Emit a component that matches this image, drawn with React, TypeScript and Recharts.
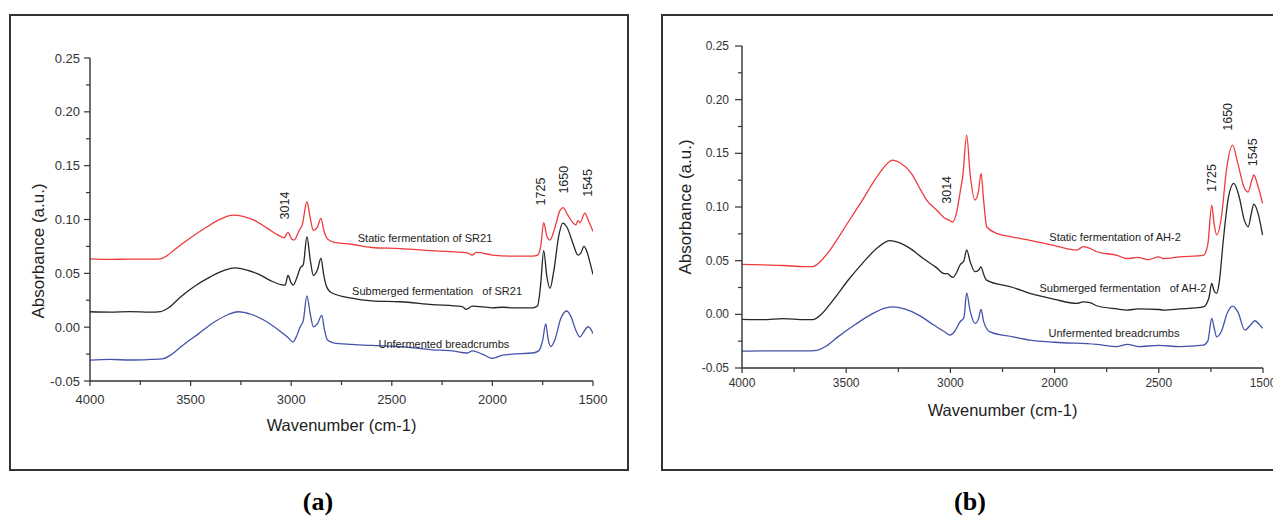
import React from "react";
import { LineChart, Line, XAxis, YAxis, ReferenceDot, Label } from "recharts";

// ---------- Panel (a): SR21 ----------
const aStaticW = [4000, 3900, 3800, 3700, 3650, 3620, 3580, 3500, 3420, 3350, 3290, 3240, 3180, 3120, 3060, 3035, 3016, 2998, 2985, 2960, 2945, 2922, 2905, 2890, 2870, 2852, 2838, 2820, 2790, 2700, 2600, 2459, 2300, 2126, 2100, 2080, 2000, 1900, 1800, 1775, 1760, 1745, 1730, 1714, 1690, 1665, 1649, 1625, 1600, 1585, 1575, 1565, 1540, 1525, 1500];
const aStaticA = [0.0635, 0.063, 0.0632, 0.0632, 0.0635, 0.066, 0.072, 0.083, 0.093, 0.1005, 0.104, 0.103, 0.099, 0.092, 0.085, 0.083, 0.088, 0.082, 0.081, 0.09, 0.095, 0.1165, 0.101, 0.09, 0.093, 0.101, 0.09, 0.082, 0.079, 0.077, 0.074, 0.073, 0.071, 0.069, 0.067, 0.0695, 0.067, 0.066, 0.066, 0.067, 0.075, 0.097, 0.085, 0.081, 0.092, 0.108, 0.111, 0.104, 0.097, 0.095, 0.099, 0.097, 0.106, 0.1, 0.089];

const aSubW = [4000, 3900, 3800, 3700, 3650, 3610, 3550, 3480, 3400, 3330, 3280, 3220, 3160, 3100, 3050, 3030, 3016, 3000, 2990, 2970, 2955, 2940, 2922, 2905, 2890, 2870, 2852, 2838, 2825, 2800, 2700, 2600, 2459, 2300, 2150, 2130, 2100, 2000, 1950, 1900, 1800, 1775, 1760, 1745, 1730, 1714, 1695, 1670, 1650, 1630, 1600, 1575, 1560, 1545, 1530, 1515, 1500];
const aSubA = [0.0143, 0.014, 0.0145, 0.014, 0.0145, 0.018, 0.028, 0.038, 0.047, 0.053, 0.055, 0.053, 0.049, 0.043, 0.0395, 0.039, 0.048, 0.041, 0.039, 0.047, 0.055, 0.058, 0.084, 0.062, 0.048, 0.053, 0.064, 0.048, 0.038, 0.032, 0.027, 0.0245, 0.0236, 0.021, 0.019, 0.0165, 0.0195, 0.018, 0.0185, 0.018, 0.018, 0.02, 0.04, 0.071, 0.048, 0.036, 0.052, 0.085, 0.0967, 0.093, 0.078, 0.067, 0.069, 0.075, 0.07, 0.06, 0.049];

const aUnfW = [4000, 3900, 3800, 3700, 3640, 3600, 3540, 3460, 3380, 3310, 3264, 3200, 3130, 3060, 3020, 2991, 2975, 2955, 2940, 2922, 2905, 2890, 2870, 2848, 2835, 2820, 2790, 2700, 2600, 2459, 2300, 2200, 2126, 2100, 2050, 2000, 1980, 1950, 1900, 1800, 1770, 1750, 1735, 1722, 1710, 1690, 1660, 1631, 1610, 1585, 1565, 1545, 1525, 1510, 1500];
const aUnfA = [-0.0306, -0.03, -0.0305, -0.03, -0.0295, -0.026, -0.017, -0.006, 0.005, 0.012, 0.0143, 0.012, 0.006, -0.003, -0.009, -0.0136, -0.009, 0.0004, 0.006, 0.029, 0.012, 0.0004, 0.003, 0.011, -0.002, -0.012, -0.0145, -0.016, -0.017, -0.018, -0.021, -0.022, -0.024, -0.022, -0.025, -0.029, -0.028, -0.026, -0.025, -0.024, -0.022, -0.012, 0.003, -0.012, -0.018, -0.012, 0.008, 0.015, 0.01, -0.003, -0.009, -0.004, 0.0004, -0.002, -0.006];

// ---------- Panel (b): AH-2 ----------
const bStaticW = [4000, 3900, 3800, 3700, 3660, 3620, 3570, 3500, 3430, 3360, 3300, 3279, 3240, 3190, 3140, 3114, 3060, 3030, 3015, 3000, 2990, 2970, 2954, 2940, 2922, 2905, 2882, 2865, 2853, 2840, 2826, 2778, 2700, 2618, 2500, 2394, 2362, 2330, 2298, 2200, 2154, 2100, 2050, 2000, 1978, 1900, 1786, 1765, 1746, 1735, 1722, 1700, 1675, 1646, 1620, 1590, 1571, 1555, 1544, 1525, 1502];
const bStaticA = [0.0465, 0.046, 0.0455, 0.0445, 0.0445, 0.05, 0.062, 0.083, 0.104, 0.126, 0.141, 0.1437, 0.141, 0.132, 0.115, 0.1065, 0.096, 0.09, 0.0885, 0.087, 0.086, 0.095, 0.113, 0.13, 0.167, 0.13, 0.1065, 0.115, 0.1314, 0.105, 0.0816, 0.0754, 0.072, 0.069, 0.064, 0.0599, 0.063, 0.0615, 0.0583, 0.055, 0.052, 0.053, 0.051, 0.0535, 0.052, 0.0535, 0.055, 0.065, 0.1018, 0.085, 0.074, 0.09, 0.135, 0.1577, 0.14, 0.118, 0.114, 0.124, 0.1298, 0.12, 0.1034];

const bSubW = [4000, 3900, 3800, 3700, 3660, 3620, 3560, 3490, 3420, 3350, 3290, 3250, 3190, 3130, 3070, 3030, 3015, 2989, 2970, 2954, 2935, 2922, 2905, 2882, 2865, 2853, 2840, 2826, 2700, 2618, 2500, 2394, 2362, 2330, 2298, 2200, 2154, 2100, 2000, 1978, 1900, 1786, 1760, 1746, 1735, 1722, 1710, 1690, 1665, 1640, 1615, 1590, 1571, 1555, 1544, 1525, 1502];
const bSubA = [-0.0047, -0.005, -0.004, -0.005, -0.005, 0.0, 0.014, 0.032, 0.048, 0.062, 0.0686, 0.067, 0.061, 0.052, 0.044, 0.038, 0.038, 0.0344, 0.039, 0.046, 0.05, 0.06, 0.049, 0.0397, 0.041, 0.0443, 0.037, 0.0319, 0.025, 0.0195, 0.014, 0.0102, 0.0117, 0.011, 0.008, 0.005, 0.004, 0.005, 0.0045, 0.004, 0.005, 0.007, 0.015, 0.0289, 0.022, 0.0195, 0.03, 0.07, 0.11, 0.122, 0.11, 0.088, 0.0816, 0.095, 0.1027, 0.095, 0.0738];

const bUnfW = [4000, 3900, 3800, 3700, 3640, 3600, 3540, 3460, 3380, 3310, 3274, 3220, 3150, 3080, 3030, 3002, 2980, 2954, 2935, 2922, 2905, 2882, 2865, 2853, 2840, 2810, 2700, 2618, 2500, 2300, 2200, 2150, 2100, 2000, 1900, 1786, 1765, 1746, 1735, 1722, 1700, 1670, 1646, 1620, 1587, 1560, 1539, 1520, 1502];
const bUnfA = [-0.0343, -0.034, -0.034, -0.034, -0.0335, -0.03, -0.021, -0.01, 0.0, 0.006, 0.007, 0.005, -0.001, -0.01, -0.016, -0.0193, -0.016, -0.007, -0.003, 0.02, 0.003, -0.0085, -0.004, 0.0046, -0.007, -0.0163, -0.021, -0.024, -0.026, -0.028, -0.03, -0.028, -0.03, -0.029, -0.03, -0.0287, -0.025, -0.0039, -0.012, -0.021, -0.016, 0.002, 0.0077, 0.002, -0.0147, -0.01, -0.006, -0.009, -0.0131];

// ---------- Ticks ----------
const xTickValues = [4000, 3750, 3500, 3250, 3000, 2750, 2500, 2250, 2000, 1750, 1500];
const xMajorValues = [4000, 3500, 3000, 2500, 2000, 1500];
const aXTickLabels = ["4000", "3500", "3000", "2500", "2000", "1500"];
const bXTickLabels = ["4000", "3500", "3000", "2000", "2500", "1500"];
const yTickValues = [-0.05, -0.025, 0, 0.025, 0.05, 0.075, 0.1, 0.125, 0.15, 0.175, 0.2, 0.225, 0.25];
const yMajorValues = [-0.05, 0, 0.05, 0.1, 0.15, 0.2, 0.25];
const yTickLabels = ["-0.05", "0.00", "0.05", "0.10", "0.15", "0.20", "0.25"];

// ---------- Texts ----------
const seriesNames = ["Static fermentation of", "Submerged fermentation   of", "Unfermented breadcrumbs"];
const aNameSuffix = "SR21";
const bNameSuffix = "AH-2";
const peakLabels = ["3014", "1725", "1650", "1545"];
// label anchors in data units [wavenumber, absorbance]
const aPeakPos = [[3031, 0.113], [1760, 0.126], [1643, 0.137], [1523, 0.134]];
const bPeakPos = [[3015, 0.116], [1746, 0.127], [1670, 0.184], [1547, 0.151]];
const aNamePos = [[2335, 0.0828], [2275, 0.0338], [2241, -0.0157]];
const bNamePos = [[2210, 0.0717], [2172, 0.0242], [2215, -0.0178]];

const COLORS = ["#ee3b3d", "#262626", "#4453aa"];
const AXIS = "#333333";
const FONT = "'Liberation Sans', Arial, sans-serif";

const zip = (w: number[], a: number[]) => w.map((x, i) => ({ w: x, a: a[i] }));

const isMajor = (v: number, majors: number[]) => majors.some((m) => Math.abs(m - v) < 1e-9);

function makeXTick(labels: string[], fontSize: number, labelDy: number) {
  return (props: any) => {
    const { x, y, payload } = props;
    const v = payload.value;
    const major = isMajor(v, xMajorValues);
    const idx = xMajorValues.findIndex((m) => Math.abs(m - v) < 1e-9);
    return (
      <g>
        <line x1={x} y1={y} x2={x} y2={y + (major ? 5 : 4)} stroke={AXIS} strokeWidth={1.2} />
        {major && (
          <text x={x} y={y + labelDy} textAnchor="middle" dominantBaseline="central" fontFamily={FONT} fontSize={fontSize} fill="#333">
            {labels[idx]}
          </text>
        )}
      </g>
    );
  };
}

function makeYTick(fontSize: number, gap: number, majorLen: number) {
  return (props: any) => {
    const { x, y, payload } = props;
    const v = payload.value;
    const major = isMajor(v, yMajorValues);
    const idx = yMajorValues.findIndex((m) => Math.abs(m - v) < 1e-9);
    return (
      <g>
        <line x1={x - (major ? majorLen : 4)} y1={y} x2={x} y2={y} stroke={AXIS} strokeWidth={1.2} />
        {major && (
          <text x={x - gap} y={y} textAnchor="end" dominantBaseline="central" fontFamily={FONT} fontSize={fontSize} fill="#333">
            {yTickLabels[idx]}
          </text>
        )}
      </g>
    );
  };
}

const rotatedText = (text: string, size: number) => (p: any) => (
  <text
    x={p.cx}
    y={p.cy}
    transform={`rotate(-90 ${p.cx} ${p.cy})`}
    textAnchor="middle"
    dominantBaseline="central"
    fontFamily={FONT}
    fontSize={size}
    fill="#222"
  >
    {text}
  </text>
);

const flatText = (text: string, size: number) => (p: any) => (
  <text
    x={p.cx}
    y={p.cy}
    textAnchor="middle"
    dominantBaseline="central"
    fontFamily={FONT}
    fontSize={size}
    fill="#222"
    style={{ whiteSpace: "pre" }}
  >
    {text}
  </text>
);

interface PanelProps {
  width: number;
  height: number;
  margin: { top: number; right: number; bottom: number; left: number };
  series: { w: number[]; a: number[] }[];
  xLabels: string[];
  tickFont: number;
  xLabelDy: number;
  yGap: number;
  yMajorLen: number;
  peakPos: number[][];
  namePos: number[][];
  suffix: string;
  xTitleDy: number;
  xTitleSize: number;
  yTitleX: number;
  yTitleY: number;
  yTitleSize: number;
}

function Panel(p: PanelProps) {
  return (
    <LineChart width={p.width} height={p.height} margin={p.margin}>
      <XAxis
        type="number"
        dataKey="w"
        domain={[1500, 4000]}
        reversed
        ticks={xTickValues}
        interval={0}
        tickSize={0}
        tickMargin={0}
        height={30}
        stroke={AXIS}
        strokeWidth={1.4}
        tick={makeXTick(p.xLabels, p.tickFont, p.xLabelDy)}
        allowDataOverflow
      >
        <Label
          content={(lp: any) => {
            const vb = lp.viewBox;
            return (
              <text x={vb.x + vb.width / 2} y={vb.y + p.xTitleDy} textAnchor="middle" dominantBaseline="central" fontFamily={FONT} fontSize={p.xTitleSize} fill="#222">
                Wavenumber (cm-1)
              </text>
            );
          }}
        />
      </XAxis>
      <YAxis
        type="number"
        domain={[-0.05, 0.25]}
        ticks={yTickValues}
        interval={0}
        tickSize={0}
        tickMargin={0}
        width={60}
        stroke={AXIS}
        strokeWidth={1.4}
        tick={makeYTick(p.tickFont, p.yGap, p.yMajorLen)}
        allowDataOverflow
      >
        <Label
          content={() => (
            <text x={p.yTitleX} y={p.yTitleY} transform={`rotate(-90 ${p.yTitleX} ${p.yTitleY})`} textAnchor="middle" dominantBaseline="central" fontFamily={FONT} fontSize={p.yTitleSize} fill="#222">
              Absorbance (a.u.)
            </text>
          )}
        />
      </YAxis>
      {p.series.map((s, i) => (
        <Line
          key={i}
          data={zip(s.w, s.a)}
          dataKey="a"
          type="monotone"
          stroke={COLORS[i]}
          strokeWidth={1.3}
          dot={false}
          activeDot={false}
          isAnimationActive={false}
        />
      ))}
      {peakLabels.map((t, i) => (
        <ReferenceDot key={"pk" + i} x={p.peakPos[i][0]} y={p.peakPos[i][1]} r={0} shape={rotatedText(t, 12.5)} />
      ))}
      {seriesNames.map((t, i) => (
        <ReferenceDot key={"nm" + i} x={p.namePos[i][0]} y={p.namePos[i][1]} r={0} shape={flatText(i < 2 ? `${t} ${p.suffix}` : t, 11)} />
      ))}
    </LineChart>
  );
}

export default function App() {
  return (
    <div style={{ position: "absolute", left: 0, top: 0, width: 1273, height: 516, background: "#fff", overflow: "hidden" }}>
      <div style={{ position: "absolute", left: 9, top: 14, width: 616, height: 453, border: "2px solid #333" }} />
      <div style={{ position: "absolute", left: 661, top: 14, width: 640, height: 453, border: "2px solid #333" }} />
      <div style={{ position: "absolute", left: 0, top: 0 }}>
        <Panel
          width={640}
          height={470}
          margin={{ top: 58, right: 47, bottom: 59, left: 30 }}
          series={[
            { w: aStaticW, a: aStaticA },
            { w: aSubW, a: aSubA },
            { w: aUnfW, a: aUnfA },
          ]}
          xLabels={aXTickLabels}
          tickFont={13}
          xLabelDy={18}
          yGap={10}
          yMajorLen={6}
          peakPos={aPeakPos}
          namePos={aNamePos}
          suffix={aNameSuffix}
          xTitleDy={44}
          xTitleSize={16.5}
          yTitleX={38}
          yTitleY={251}
          yTitleSize={17}
        />
      </div>
      <div style={{ position: "absolute", left: 640, top: 0 }}>
        <Panel
          width={633}
          height={470}
          margin={{ top: 46, right: 10, bottom: 72, left: 42 }}
          series={[
            { w: bStaticW, a: bStaticA },
            { w: bSubW, a: bSubA },
            { w: bUnfW, a: bUnfA },
          ]}
          xLabels={bXTickLabels}
          tickFont={12}
          xLabelDy={15}
          yGap={13}
          yMajorLen={7}
          peakPos={bPeakPos}
          namePos={bNamePos}
          suffix={bNameSuffix}
          xTitleDy={42}
          xTitleSize={16.5}
          yTitleX={45}
          yTitleY={207}
          yTitleSize={17}
        />
      </div>
      <div style={{ position: "absolute", left: 268, top: 484, width: 100, textAlign: "center", fontFamily: "'Liberation Serif', 'Times New Roman', serif", fontWeight: "bold", fontSize: 26, lineHeight: "36px" }}>
        (a)
      </div>
      <div style={{ position: "absolute", left: 920, top: 484, width: 100, textAlign: "center", fontFamily: "'Liberation Serif', 'Times New Roman', serif", fontWeight: "bold", fontSize: 26, lineHeight: "36px" }}>
        (b)
      </div>
    </div>
  );
}
